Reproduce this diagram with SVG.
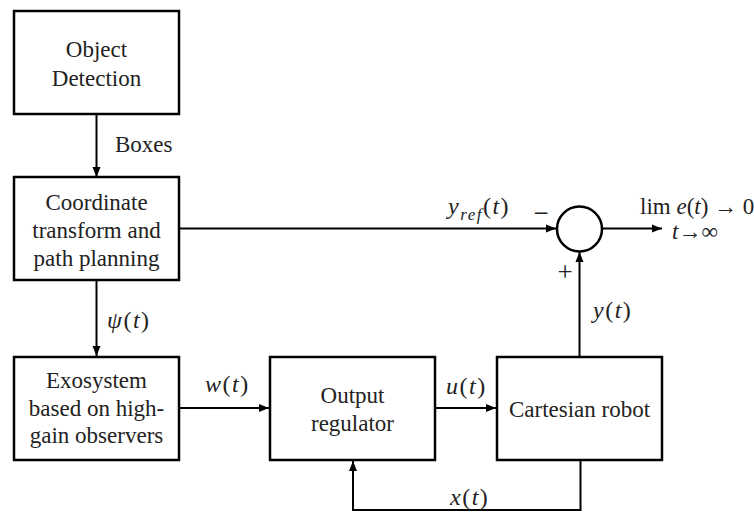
<svg xmlns="http://www.w3.org/2000/svg" width="754" height="512" viewBox="0 0 754 512">
<style>
.box{fill:#fff;stroke:#000;stroke-width:2.5}
text{font-family:'Liberation Serif','Times New Roman','DejaVu Serif',serif;fill:#222}
.t{font-size:23px;text-anchor:middle}
.l{font-size:23px}
.mm{font-size:24px;letter-spacing:1.5px}
.m{font-style:italic}
.s{font-size:27px;text-anchor:middle}
.c{fill:none;stroke:#000;stroke-width:2}
</style>
<defs>
<marker id="ah" markerUnits="userSpaceOnUse" markerWidth="10" markerHeight="10" viewBox="0 0 10 10" refX="10" refY="5" orient="auto">
<path d="M0,1 L10,5 L0,9 Z" fill="#000"/>
</marker>
</defs>
<g id="connectors">
<line class="c" x1="96.5" y1="114" x2="96.5" y2="177" marker-end="url(#ah)"/>
<line class="c" x1="96.5" y1="280" x2="96.5" y2="356" marker-end="url(#ah)"/>
<line class="c" x1="179" y1="228.5" x2="556" y2="228.5" marker-end="url(#ah)"/>
<line class="c" x1="602" y1="228.5" x2="662" y2="228.5" marker-end="url(#ah)"/>
<line class="c" x1="179" y1="408" x2="269" y2="408" marker-end="url(#ah)"/>
<line class="c" x1="435" y1="408" x2="496" y2="408" marker-end="url(#ah)"/>
<line class="c" x1="579.5" y1="357" x2="579.5" y2="252" marker-end="url(#ah)"/>
<polyline class="c" points="580.5,460 580.5,510 353,510 353,461" marker-end="url(#ah)"/>
</g>
<g id="labels">
<text class="l" x="115" y="152">Boxes</text>
<text class="mm m" x="107" y="328">ψ<tspan font-style="normal">(</tspan>t<tspan font-style="normal">)</tspan></text>
<text class="mm m" x="205" y="392">w<tspan font-style="normal">(</tspan>t<tspan font-style="normal">)</tspan></text>
<text class="mm m" x="446" y="394">u<tspan font-style="normal">(</tspan>t<tspan font-style="normal">)</tspan></text>
<text class="mm m" x="593" y="318">y<tspan font-style="normal">(</tspan>t<tspan font-style="normal">)</tspan></text>
<text class="mm m" x="450" y="505">x<tspan font-style="normal">(</tspan>t<tspan font-style="normal">)</tspan></text>
<text class="mm m" x="448" y="214">y<tspan font-size="17" dy="6">ref</tspan><tspan font-style="normal" dy="-6">(</tspan>t<tspan font-style="normal">)</tspan></text>
<text class="s" x="541" y="222">−</text>
<text class="s" x="565" y="281">+</text>
<text class="l" x="640" y="214">lim <tspan class="m">e</tspan>(<tspan class="m">t</tspan>) → 0</text>
<text class="l" x="695" y="239" font-size="10" text-anchor="middle"><tspan class="m">t</tspan>→∞</text>
</g>
<g id="object-detection">
<rect class="box" x="14" y="11" width="165" height="103"/>
<text class="t" x="96.5" y="57">Object</text>
<text class="t" x="96.5" y="86">Detection</text>
</g>
<g id="coordinate-transform">
<rect class="box" x="14" y="177" width="165" height="103"/>
<text class="t" x="96.5" y="210">Coordinate</text>
<text class="t" x="96.5" y="238">transform and</text>
<text class="t" x="96.5" y="266">path planning</text>
</g>
<g id="exosystem">
<rect class="box" x="14" y="357" width="165" height="103"/>
<text class="t" x="96.5" y="388">Exosystem</text>
<text class="t" x="96.5" y="415.5">based on high-</text>
<text class="t" x="96.5" y="443">gain observers</text>
</g>
<g id="output-regulator">
<rect class="box" x="270" y="357" width="165" height="103"/>
<text class="t" x="352.5" y="403">Output</text>
<text class="t" x="352.5" y="431">regulator</text>
</g>
<g id="cartesian-robot">
<rect class="box" x="497" y="357" width="165" height="103"/>
<text class="t" x="579.5" y="417">Cartesian robot</text>
</g>
<g id="summing-junction">
<circle cx="579.5" cy="229" r="22.5" fill="#fff" stroke="#000" stroke-width="2.5"/>
</g>
</svg>
